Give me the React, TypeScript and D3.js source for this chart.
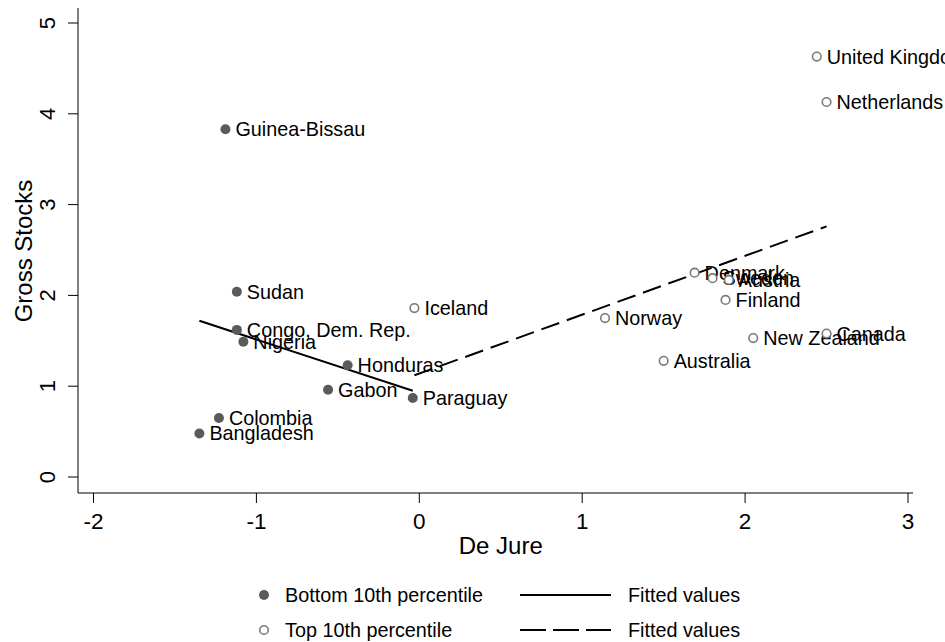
import React from "react";
import * as d3 from "d3";

const bottomNames = ["Guinea-Bissau", "Sudan", "Congo, Dem. Rep.", "Nigeria", "Honduras", "Gabon", "Paraguay", "Colombia", "Bangladesh"];
const bottomX = [-1.19, -1.12, -1.12, -1.08, -0.44, -0.56, -0.04, -1.23, -1.35];
const bottomY = [3.83, 2.04, 1.62, 1.49, 1.23, 0.96, 0.87, 0.65, 0.48];

const topNames = ["United Kingdom", "Netherlands", "Iceland", "Denmark", "Sweden", "Austria", "Finland", "Norway", "New Zealand", "Canada", "Australia"];
const topX = [2.44, 2.5, -0.03, 1.69, 1.8, 1.9, 1.88, 1.14, 2.05, 2.5, 1.5];
const topY = [4.63, 4.13, 1.86, 2.25, 2.19, 2.17, 1.95, 1.75, 1.53, 1.58, 1.28];

const fitBottomX = [-1.35, -0.04];
const fitBottomY = [1.72, 0.95];
const fitTopX = [-0.03, 2.5];
const fitTopY = [1.12, 2.76];

const xTicks = [-2, -1, 0, 1, 2, 3];
const yTicks = [0, 1, 2, 3, 4, 5];

const legendLabels = ["Bottom 10th percentile", "Top 10th percentile", "Fitted values", "Fitted values"];

export default function App() {
  const W = 945, H = 642;
  const x = d3.scaleLinear().domain([-2, 3]).range([93.5, 908]);
  const y = d3.scaleLinear().domain([0, 5]).range([477, 23]);
  const axisLeft = 78, axisBottom = 493;
  const font = "'Liberation Sans', Arial, sans-serif";
  const line = d3.line<[number, number]>().x(d => x(d[0])).y(d => y(d[1]));
  const fitB = line(fitBottomX.map((v, i) => [v, fitBottomY[i]] as [number, number])) || "";
  const fitT = line(fitTopX.map((v, i) => [v, fitTopY[i]] as [number, number])) || "";
  const labelSize = 19.8;
  return (
    <svg width={W} height={H} style={{ position: "absolute", left: 0, top: 0, background: "#fff" }} fontFamily={font}>
      <rect x={0} y={0} width={W} height={H} fill="#fff" />
      {/* axes */}
      <line x1={axisLeft} x2={axisLeft} y1={8} y2={axisBottom} stroke="#000" strokeWidth={1} />
      <line x1={axisLeft} x2={913} y1={axisBottom} y2={axisBottom} stroke="#000" strokeWidth={1} />
      {yTicks.map(t => (
        <g key={"y" + t}>
          <line x1={axisLeft - 10} x2={axisLeft} y1={y(t)} y2={y(t)} stroke="#000" />
          <text transform={`translate(${axisLeft - 23},${y(t)}) rotate(-90)`} textAnchor="middle" fontSize={22} fill="#000">{t}</text>
        </g>
      ))}
      {xTicks.map(t => (
        <g key={"x" + t}>
          <line x1={x(t)} x2={x(t)} y1={axisBottom} y2={axisBottom + 10} stroke="#000" />
          <text x={x(t)} y={axisBottom + 36} textAnchor="middle" fontSize={22.5} fill="#000">{t}</text>
        </g>
      ))}
      <text x={x(0.5)} y={554} textAnchor="middle" fontSize={24} fill="#000">De Jure</text>
      <text transform={`translate(32,${(y(5) + y(0)) / 2 + 1}) rotate(-90)`} textAnchor="middle" fontSize={24} fill="#000">Gross Stocks</text>

      {/* fitted lines */}
      <path d={fitB} fill="none" stroke="#000" strokeWidth={2} />
      <path d={fitT} fill="none" stroke="#000" strokeWidth={2} strokeDasharray="19 8" />

      {/* points */}
      {bottomNames.map((n, i) => (
        <g key={"b" + n}>
          <circle cx={x(bottomX[i])} cy={y(bottomY[i])} r={5} fill="#5a5a5a" />
          <text x={x(bottomX[i]) + 10} y={y(bottomY[i]) + 7} fontSize={labelSize} fill="#000">{n}</text>
        </g>
      ))}
      {topNames.map((n, i) => (
        <g key={"t" + n}>
          <circle cx={x(topX[i])} cy={y(topY[i])} r={4.3} fill="#fff" stroke="#7a7a7a" strokeWidth={1.6} />
          <text x={x(topX[i]) + 10} y={y(topY[i]) + 7} fontSize={labelSize} fill="#000">{n}</text>
        </g>
      ))}

      {/* legend */}
      <circle cx={264} cy={595} r={5} fill="#5a5a5a" />
      <text x={285} y={602} fontSize={labelSize} fill="#000">{legendLabels[0]}</text>
      <circle cx={264} cy={630} r={4.3} fill="#fff" stroke="#7a7a7a" strokeWidth={1.6} />
      <text x={285} y={637} fontSize={labelSize} fill="#000">{legendLabels[1]}</text>
      <line x1={520} x2={611} y1={595} y2={595} stroke="#000" strokeWidth={2} />
      <text x={628} y={602} fontSize={labelSize} fill="#000">{legendLabels[2]}</text>
      <line x1={520} x2={611} y1={630} y2={630} stroke="#000" strokeWidth={2} strokeDasharray="26 7" />
      <text x={628} y={637} fontSize={labelSize} fill="#000">{legendLabels[3]}</text>
    </svg>
  );
}
